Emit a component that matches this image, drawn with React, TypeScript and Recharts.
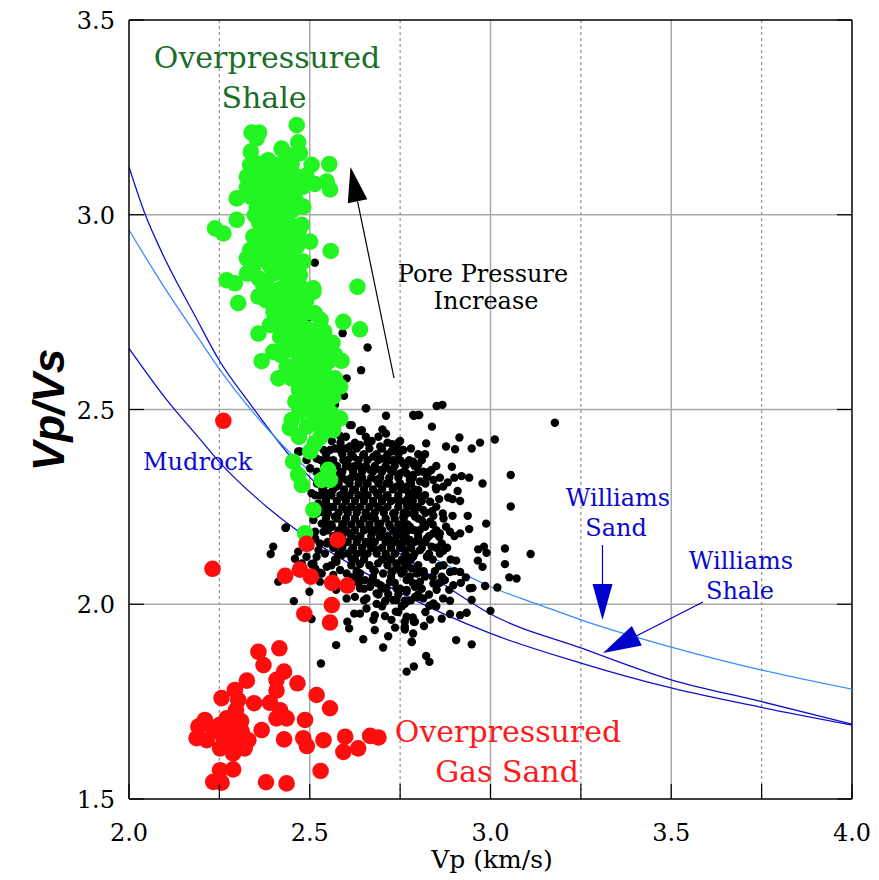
import { ComposedChart, Scatter, Line, XAxis, YAxis, CartesianGrid, ReferenceLine } from 'recharts'

// plot frame in page pixels (used only for annotations)
const W = 879
const H = 880
const PLOT_LEFT = 129
const PLOT_RIGHT = 852
const PLOT_TOP = 20
const PLOT_BOTTOM = 799

const xTicks = [2, 2.25, 2.5, 2.75, 3, 3.25, 3.5, 3.75, 4]
const yTicks = [1.5, 2, 2.5, 3, 3.5]

// trend curves (Vp, Vp/Vs)
const mudrock: [number, number][] = [
  [2.0, 2.657], [2.1, 2.53], [2.2, 2.42], [2.25, 2.365], [2.35, 2.275], [2.47, 2.186],
  [2.6, 2.11], [2.75, 2.03], [3.0, 1.925], [3.25, 1.849], [3.5, 1.785], [3.75, 1.735], [4.0, 1.69],
]
const williamsShale: [number, number][] = [
  [2.0, 3.123], [2.046, 2.998], [2.092, 2.901], [2.184, 2.738], [2.249, 2.627], [2.341, 2.507],
  [2.443, 2.383], [2.6, 2.24], [2.75, 2.13], [2.88, 2.045], [3.0, 1.975], [3.25, 1.888],
  [3.5, 1.806], [3.75, 1.75], [4.0, 1.692],
]
const williamsSand: [number, number][] = [
  [2.0, 2.961], [2.092, 2.822], [2.184, 2.694], [2.249, 2.605], [2.341, 2.495], [2.443, 2.391],
  [2.6, 2.265], [2.75, 2.165], [2.88, 2.1], [3.0, 2.045], [3.137, 1.998], [3.25, 1.96],
  [3.5, 1.89], [3.75, 1.831], [4.0, 1.782],
]

// overpressured shale samples
const shalePts: [number, number][] = [
  [2.464, 3.23], [2.339, 3.211], [2.36, 3.211], [2.353, 3.196], [2.337, 3.162], [2.422, 3.17], [2.468, 3.186],
  [2.335, 3.128], [2.385, 3.14], [2.44, 3.153], [2.473, 3.158], [2.505, 3.128], [2.554, 3.13], [2.326, 3.098],
  [2.367, 3.106], [2.404, 3.11], [2.44, 3.098], [2.482, 3.072], [2.514, 3.079], [2.547, 3.085], [2.556, 3.065],
  [2.326, 3.07], [2.376, 3.072], [2.418, 3.059], [2.298, 3.042], [2.335, 3.047], [2.39, 3.042], [2.44, 3.055],
  [2.353, 3.021], [2.408, 3.021], [2.482, 3.021], [2.348, 2.999], [2.395, 2.995], [2.298, 2.987], [2.238, 2.965],
  [2.261, 2.952], [2.381, 2.974], [2.418, 2.978], [2.454, 2.969], [2.478, 2.974], [2.344, 2.944], [2.39, 2.944],
  [2.445, 2.944], [2.501, 2.931], [2.335, 2.909], [2.381, 2.918], [2.427, 2.909], [2.464, 2.918], [2.558, 2.907],
  [2.326, 2.888], [2.367, 2.888], [2.408, 2.884], [2.45, 2.884], [2.482, 2.88], [2.27, 2.832], [2.326, 2.849],
  [2.358, 2.837], [2.399, 2.849], [2.436, 2.84], [2.473, 2.845], [2.51, 2.811], [2.293, 2.824], [2.632, 2.815],
  [2.371, 2.82], [2.302, 2.773], [2.358, 2.79], [2.408, 2.781], [2.454, 2.794], [2.51, 2.802], [2.422, 2.755],
  [2.473, 2.759], [2.514, 2.747], [2.39, 2.717], [2.44, 2.721], [2.492, 2.708], [2.593, 2.725], [2.639, 2.706],
  [2.358, 2.695], [2.418, 2.687], [2.464, 2.678], [2.519, 2.674], [2.563, 2.671], [2.399, 2.648], [2.44, 2.653],
  [2.501, 2.644], [2.367, 2.624], [2.528, 2.636], [2.551, 2.623], [2.588, 2.625], [2.436, 2.609], [2.473, 2.601],
  [2.413, 2.58], [2.51, 2.588], [2.547, 2.576], [2.584, 2.559], [2.482, 2.567], [2.501, 2.546], [2.482, 2.529],
  [2.528, 2.533], [2.565, 2.533], [2.492, 2.507], [2.538, 2.499], [2.45, 2.473], [2.445, 2.452], [2.492, 2.456],
  [2.519, 2.464], [2.551, 2.456], [2.584, 2.477], [2.565, 2.447], [2.514, 2.413], [2.501, 2.392], [2.454, 2.366],
  [2.468, 2.332], [2.478, 2.306], [2.533, 2.319], [2.551, 2.345], [2.556, 2.319], [2.51, 2.242], [2.487, 2.182],
  [2.492, 2.516], [2.574, 2.473],
]
// the solid middle of the shale cloud
const shaleCorePts: [number, number][] = [
  [2.36, 3.13], [2.39, 3.13], [2.42, 3.13], [2.45, 3.13], [2.35, 3.1], [2.38, 3.1], [2.41, 3.1], [2.46, 3.1],
  [2.49, 3.1], [2.35, 3.07], [2.4, 3.07], [2.43, 3.07], [2.46, 3.07], [2.36, 3.04], [2.37, 3.04], [2.42, 3.04],
  [2.46, 3.04], [2.37, 3.01], [2.42, 3.01], [2.45, 3.01], [2.36, 2.98], [2.4, 2.98], [2.44, 2.98], [2.365, 2.96],
  [2.415, 2.96], [2.47, 2.96], [2.36, 2.93], [2.41, 2.93], [2.47, 2.93], [2.35, 2.9], [2.4, 2.9], [2.44, 2.9],
  [2.345, 2.87], [2.39, 2.87], [2.43, 2.87], [2.47, 2.87], [2.41, 2.86], [2.46, 2.86], [2.39, 2.81], [2.42, 2.81],
  [2.45, 2.81], [2.48, 2.81], [2.38, 2.78], [2.44, 2.78], [2.49, 2.78], [2.4, 2.75], [2.45, 2.75], [2.49, 2.75],
  [2.41, 2.73], [2.47, 2.73], [2.53, 2.73], [2.42, 2.7], [2.45, 2.7], [2.5, 2.7], [2.54, 2.7], [2.43, 2.67],
  [2.49, 2.67], [2.54, 2.67], [2.42, 2.64], [2.47, 2.64], [2.53, 2.64], [2.57, 2.64], [2.45, 2.61], [2.5, 2.61],
  [2.54, 2.61], [2.45, 2.58], [2.49, 2.58], [2.53, 2.58], [2.57, 2.58], [2.47, 2.55], [2.52, 2.55], [2.55, 2.55],
  [2.46, 2.52], [2.51, 2.52], [2.55, 2.52], [2.47, 2.49], [2.51, 2.49], [2.56, 2.49], [2.53, 2.47], [2.47, 2.43],
  [2.53, 2.43],
]

// overpressured gas sand samples
const gasSandPts: [number, number][] = [
  [2.358, 1.878], [2.416, 1.887], [2.372, 1.844], [2.429, 1.827], [2.326, 1.804], [2.408, 1.806], [2.466, 1.797],
  [2.293, 1.78], [2.408, 1.778], [2.256, 1.759], [2.302, 1.754], [2.346, 1.746], [2.39, 1.747], [2.519, 1.767],
  [2.296, 1.728], [2.556, 1.733], [2.418, 1.728], [2.27, 1.707], [2.408, 1.707], [2.436, 1.707], [2.487, 1.703],
  [2.21, 1.703], [2.192, 1.686], [2.298, 1.686], [2.367, 1.677], [2.233, 1.677], [2.27, 1.669], [2.187, 1.656],
  [2.215, 1.651], [2.288, 1.656], [2.33, 1.651], [2.429, 1.653], [2.482, 1.656], [2.538, 1.651], [2.598, 1.66],
  [2.667, 1.662], [2.69, 1.658], [2.252, 1.63], [2.288, 1.617], [2.492, 1.636], [2.593, 1.621], [2.634, 1.63],
  [2.252, 1.574], [2.288, 1.576], [2.233, 1.544], [2.256, 1.542], [2.379, 1.543], [2.436, 1.54], [2.53, 1.572],
  [2.27, 1.69], [2.312, 1.673], [2.25, 1.69], [2.28, 1.64], [2.31, 1.7], [2.32, 1.63], [2.26, 1.66],
  [2.491, 2.155], [2.577, 2.165], [2.432, 2.073], [2.473, 2.089], [2.503, 2.071], [2.562, 2.055], [2.604, 2.048],
  [2.561, 1.998], [2.485, 1.975], [2.556, 1.953], [2.261, 2.471], [2.231, 2.091],
]

// normally pressured samples
const normalPts: [number, number][] = [
  [2.851, 2.509], [2.867, 2.512], [2.786, 2.486], [2.803, 2.486], [2.838, 2.456], [3.178, 2.466], [2.914, 2.428],
  [2.971, 2.415], [3.012, 2.423], [2.877, 2.405], [2.902, 2.398], [2.948, 2.4], [2.822, 2.413], [2.819, 2.385],
  [2.759, 2.396], [2.786, 2.366], [2.8, 2.358], [3.056, 2.332], [2.9, 2.325], [2.92, 2.329], [2.941, 2.325],
  [2.978, 2.31], [2.882, 2.313], [2.849, 2.3], [2.909, 2.291], [3.056, 2.251], [2.858, 2.27], [2.883, 2.274],
  [2.895, 2.27], [2.916, 2.265], [2.868, 2.233], [2.895, 2.227], [2.937, 2.227], [2.838, 2.239], [2.988, 2.207],
  [2.941, 2.193], [2.916, 2.182], [2.877, 2.199], [2.888, 2.186], [2.858, 2.173], [2.865, 2.156], [2.842, 2.182],
  [2.869, 2.137], [2.966, 2.141], [2.982, 2.148], [2.989, 2.132], [3.04, 2.143], [3.111, 2.129], [2.905, 2.112],
  [2.965, 2.112], [2.978, 2.096], [3.04, 2.103], [3.052, 2.069], [3.072, 2.066], [2.888, 2.083], [2.916, 2.083],
  [2.858, 2.098], [2.846, 2.085], [2.865, 2.071], [2.932, 2.069], [2.897, 2.049], [2.918, 2.055], [2.943, 2.041],
  [2.95, 2.042], [2.985, 2.047], [3.019, 2.043], [2.948, 2.011], [3.0, 1.983], [2.869, 2.015], [2.888, 2.009],
  [2.842, 2.002], [2.831, 1.996], [2.934, 1.978], [2.916, 1.972], [2.888, 1.975], [2.865, 1.963], [2.833, 1.961],
  [2.785, 1.966], [2.788, 1.955], [2.763, 1.955], [2.763, 1.935], [2.816, 1.944], [2.763, 2.009], [2.8, 2.019],
  [2.814, 2.015], [2.905, 1.908], [2.948, 1.897], [2.782, 1.903], [2.822, 1.867], [2.831, 1.852], [2.788, 1.84],
  [2.768, 1.827], [2.8, 2.081], [2.819, 2.071], [2.805, 2.058], [2.791, 2.045], [2.777, 2.071], [2.768, 2.037],
  [2.842, 2.053], [2.851, 2.037], [2.886, 2.037], [2.874, 2.062], [2.824, 2.122], [2.805, 2.139], [2.837, 2.148],
  [2.805, 2.161], [2.824, 2.169], [2.805, 2.191], [2.819, 2.199], [2.833, 2.212], [2.81, 2.216], [2.842, 2.227],
  [2.814, 2.242], [2.833, 2.263], [2.819, 2.28], [2.8, 2.293], [2.805, 2.315], [2.824, 2.327], [2.814, 2.34],
  [2.768, 2.336], [2.777, 2.319], [2.768, 2.302], [2.786, 2.285], [2.768, 2.268], [2.786, 2.25], [2.768, 2.233],
  [2.791, 2.225], [2.759, 2.207], [2.777, 2.191], [2.759, 2.173], [2.777, 2.156], [2.763, 2.139], [2.786, 2.122],
  [2.763, 2.105], [2.782, 2.092], [2.754, 2.079], [2.893, 2.353], [2.869, 2.302], [2.842, 2.319], [2.837, 2.345],
  [2.786, 2.332], [2.86, 2.182],
  [2.656, 2.503], [2.711, 2.484], [2.788, 2.484], [2.8, 2.486], [2.611, 2.46], [2.639, 2.445], [2.671, 2.419],
  [2.701, 2.449], [2.711, 2.438], [2.728, 2.411], [2.75, 2.419], [2.757, 2.396], [2.584, 2.432], [2.561, 2.419],
  [2.468, 2.392], [2.434, 2.197], [2.399, 2.148], [2.392, 2.129], [2.413, 2.058], [2.456, 2.008], [2.499, 2.032],
  [2.505, 1.962], [2.573, 1.895], [2.531, 1.848], [2.604, 1.955], [2.609, 1.938], [2.623, 1.976], [2.648, 1.91],
  [2.703, 1.889], [2.717, 1.918], [2.657, 1.989], [2.68, 1.972], [2.708, 1.97], [2.738, 1.981], [2.736, 1.94],
  [2.763, 1.942], [2.782, 1.904], [2.763, 2.001], [2.685, 2.001], [2.731, 2.011], [2.639, 2.06], [2.671, 2.058],
  [2.717, 2.026], [2.627, 2.071], [2.573, 2.037], [2.528, 2.081], [2.505, 2.103], [2.574, 2.109], [2.524, 2.139],
  [2.542, 2.13], [2.616, 2.139], [2.639, 2.103], [2.676, 2.088], [2.703, 2.079], [2.722, 2.058], [2.768, 2.062],
  [2.796, 2.079], [2.74, 2.105], [2.768, 2.122], [2.515, 2.169], [2.538, 2.186], [2.533, 2.207], [2.519, 2.233],
  [2.524, 2.259], [2.515, 2.28], [2.542, 2.276], [2.556, 2.25], [2.569, 2.225], [2.561, 2.199], [2.574, 2.178],
  [2.593, 2.156], [2.588, 2.126], [2.616, 2.117], [2.648, 2.13], [2.611, 2.182], [2.634, 2.169], [2.662, 2.156],
  [2.685, 2.139], [2.712, 2.122], [2.736, 2.13], [2.689, 2.105], [2.75, 2.088], [2.726, 2.083], [2.62, 2.293],
  [2.593, 2.276], [2.602, 2.242], [2.63, 2.242], [2.593, 2.207], [2.639, 2.207], [2.667, 2.191], [2.695, 2.173],
  [2.722, 2.165], [2.75, 2.156], [2.777, 2.165], [2.667, 2.225], [2.695, 2.207], [2.722, 2.199], [2.75, 2.191],
  [2.777, 2.199], [2.676, 2.259], [2.703, 2.242], [2.731, 2.233], [2.759, 2.225], [2.786, 2.233], [2.648, 2.276],
  [2.685, 2.285], [2.712, 2.276], [2.74, 2.268], [2.768, 2.259], [2.657, 2.31], [2.685, 2.319], [2.712, 2.31],
  [2.74, 2.302], [2.768, 2.293], [2.63, 2.327], [2.602, 2.319], [2.574, 2.302], [2.639, 2.353], [2.667, 2.345],
  [2.695, 2.345], [2.722, 2.345], [2.75, 2.336], [2.777, 2.327], [2.611, 2.353], [2.584, 2.336], [2.593, 2.37],
  [2.62, 2.379], [2.648, 2.383], [2.676, 2.379], [2.703, 2.374], [2.731, 2.37], [2.759, 2.362], [2.786, 2.362],
  [2.556, 2.396], [2.584, 2.396], [2.611, 2.405], [2.639, 2.409], [2.695, 2.405], [2.726, 2.392], [2.547, 2.374],
  [2.561, 2.358], [2.519, 2.374], [2.528, 2.327], [2.538, 2.302], [2.551, 2.285], [2.501, 2.349], [2.482, 2.302],
  [2.505, 2.285], [2.547, 2.315], [2.542, 2.203], [2.51, 2.216], [2.533, 2.237], [2.501, 2.148], [2.519, 2.122],
  [2.547, 2.156], [2.569, 2.148], [2.515, 2.092], [2.547, 2.096], [2.584, 2.088], [2.602, 2.079], [2.639, 2.079],
  [2.653, 2.062], [2.667, 2.045], [2.695, 2.049], [2.712, 2.041], [2.74, 2.041], [2.768, 2.032], [2.791, 2.019],
  [2.74, 2.011], [2.768, 2.007], [2.791, 2.049], [2.625, 2.019], [2.602, 2.015], [2.639, 2.041], [2.685, 2.028],
  [2.657, 2.015], [2.708, 2.007], [2.639, 1.976], [2.676, 1.96], [2.68, 1.934], [2.726, 1.96], [2.768, 1.968],
  [2.791, 1.955], [2.786, 1.925], [2.473, 2.392], [2.491, 2.37], [2.478, 2.327], [2.519, 2.405], [2.538, 2.396],
  [2.569, 2.443], [2.519, 2.25], [2.515, 2.186], [2.501, 2.173], [2.528, 2.156], [2.491, 2.122], [2.51, 2.105],
  [2.533, 2.079], [2.528, 2.058], [2.565, 2.075], [2.459, 2.117], [2.468, 2.135], [2.478, 2.105],
  [2.514, 2.877], [2.492, 2.73], [2.591, 2.696], [2.66, 2.659], [2.642, 2.601], [2.602, 2.58], [2.595, 2.535],
  [2.655, 2.503], [2.57, 2.512], [2.528, 2.49], [2.616, 2.46], [2.644, 2.447], [2.479, 2.559], [2.433, 2.196],
]
// the solid middle of the normally pressured cloud
const normalCorePts: [number, number][] = [
  [2.6, 2.43], [2.655, 2.43], [2.69, 2.43],
  [2.585, 2.415], [2.625, 2.415], [2.66, 2.415], [2.715, 2.415], [2.745, 2.415],
  [2.57, 2.4], [2.6, 2.4], [2.63, 2.4], [2.665, 2.4], [2.7, 2.4], [2.74, 2.4], [2.78, 2.4],
  [2.545, 2.385], [2.59, 2.385], [2.615, 2.385], [2.65, 2.385], [2.685, 2.385], [2.715, 2.385], [2.745, 2.385], [2.8, 2.385],
  [2.53, 2.37], [2.565, 2.37], [2.605, 2.37], [2.635, 2.37], [2.66, 2.37], [2.69, 2.37], [2.72, 2.37], [2.75, 2.37], [2.775, 2.37], [2.81, 2.37],
  [2.54, 2.355], [2.575, 2.355], [2.6, 2.355], [2.625, 2.355], [2.655, 2.355], [2.68, 2.355], [2.71, 2.355], [2.735, 2.355], [2.765, 2.355], [2.79, 2.355], [2.85, 2.355],
  [2.52, 2.34], [2.555, 2.34], [2.59, 2.34], [2.62, 2.34], [2.645, 2.34], [2.675, 2.34], [2.7, 2.34], [2.73, 2.34], [2.76, 2.34], [2.8, 2.34], [2.83, 2.34],
  [2.535, 2.325], [2.565, 2.325], [2.59, 2.325], [2.615, 2.325], [2.645, 2.325], [2.67, 2.325], [2.695, 2.325], [2.72, 2.325], [2.745, 2.325], [2.785, 2.325], [2.86, 2.325],
  [2.52, 2.31], [2.55, 2.31], [2.58, 2.31], [2.61, 2.31], [2.635, 2.31], [2.66, 2.31], [2.69, 2.31], [2.72, 2.31], [2.75, 2.31], [2.78, 2.31], [2.82, 2.31],
  [2.535, 2.295], [2.565, 2.295], [2.595, 2.295], [2.625, 2.295], [2.65, 2.295], [2.675, 2.295], [2.7, 2.295], [2.73, 2.295], [2.755, 2.295], [2.79, 2.295], [2.85, 2.295],
  [2.53, 2.28], [2.56, 2.28], [2.585, 2.28], [2.61, 2.28], [2.635, 2.28], [2.66, 2.28], [2.69, 2.28], [2.715, 2.28], [2.745, 2.28], [2.775, 2.28], [2.8, 2.28],
  [2.545, 2.265], [2.575, 2.265], [2.6, 2.265], [2.625, 2.265], [2.65, 2.265], [2.675, 2.265], [2.7, 2.265], [2.725, 2.265], [2.75, 2.265], [2.785, 2.265], [2.81, 2.265],
  [2.54, 2.25], [2.565, 2.25], [2.59, 2.25], [2.615, 2.25], [2.64, 2.25], [2.665, 2.25], [2.69, 2.25], [2.715, 2.25], [2.745, 2.25], [2.77, 2.25], [2.8, 2.25], [2.85, 2.25],
  [2.55, 2.235], [2.58, 2.235], [2.605, 2.235], [2.63, 2.235], [2.655, 2.235], [2.68, 2.235], [2.705, 2.235], [2.735, 2.235], [2.76, 2.235], [2.79, 2.235], [2.82, 2.235],
  [2.545, 2.22], [2.575, 2.22], [2.6, 2.22], [2.625, 2.22], [2.65, 2.22], [2.68, 2.22], [2.71, 2.22], [2.735, 2.22], [2.76, 2.22], [2.8, 2.22], [2.87, 2.22],
  [2.56, 2.205], [2.59, 2.205], [2.615, 2.205], [2.64, 2.205], [2.665, 2.205], [2.69, 2.205], [2.72, 2.205], [2.745, 2.205], [2.77, 2.205], [2.815, 2.205], [2.84, 2.205],
  [2.55, 2.19], [2.58, 2.19], [2.6, 2.19], [2.625, 2.19], [2.65, 2.19], [2.68, 2.19], [2.7, 2.19], [2.73, 2.19], [2.76, 2.19], [2.79, 2.19], [2.85, 2.19],
  [2.565, 2.175], [2.59, 2.175], [2.615, 2.175], [2.64, 2.175], [2.67, 2.175], [2.695, 2.175], [2.715, 2.175], [2.74, 2.175], [2.765, 2.175], [2.8, 2.175], [2.83, 2.175], [2.9, 2.175],
  [2.55, 2.16], [2.575, 2.16], [2.605, 2.16], [2.63, 2.16], [2.655, 2.16], [2.68, 2.16], [2.71, 2.16], [2.735, 2.16], [2.76, 2.16], [2.79, 2.16], [2.82, 2.16],
  [2.565, 2.145], [2.59, 2.145], [2.62, 2.145], [2.645, 2.145], [2.67, 2.145], [2.7, 2.145], [2.725, 2.145], [2.75, 2.145], [2.78, 2.145], [2.81, 2.145], [2.85, 2.145], [2.88, 2.145],
  [2.58, 2.13], [2.605, 2.13], [2.63, 2.13], [2.66, 2.13], [2.685, 2.13], [2.71, 2.13], [2.735, 2.13], [2.765, 2.13], [2.79, 2.13], [2.83, 2.13], [2.86, 2.13],
  [2.57, 2.115], [2.625, 2.115], [2.65, 2.115], [2.7, 2.115], [2.725, 2.115], [2.755, 2.115], [2.78, 2.115], [2.84, 2.115], [2.89, 2.115],
  [2.56, 2.1], [2.615, 2.1], [2.665, 2.1], [2.715, 2.1], [2.74, 2.1], [2.77, 2.1], [2.8, 2.1], [2.87, 2.1],
  [2.63, 2.085], [2.68, 2.085], [2.73, 2.085], [2.76, 2.085], [2.815, 2.085], [2.9, 2.085],
  [2.62, 2.07], [2.675, 2.07], [2.725, 2.07], [2.775, 2.07], [2.84, 2.07],
  [2.635, 2.055], [2.685, 2.055], [2.735, 2.055], [2.785, 2.055], [2.86, 2.055],
  [2.65, 2.04], [2.7, 2.04], [2.75, 2.04], [2.81, 2.04],
  [2.69, 2.025], [2.745, 2.025], [2.8, 2.025], [2.83, 2.025],
  [2.65, 2.01], [2.71, 2.01], [2.78, 2.01],
  [2.7, 1.995], [2.755, 1.995], [2.85, 1.995],
  [2.745, 1.98], [2.82, 1.98],
]

const toXY = (pts: [number, number][]) => pts.map(([x, y]) => ({ x, y }))

const SERIF = '"DejaVu Serif", serif'

function XTick(props: any) {
  const { x, y, payload } = props
  const major = Math.abs(payload.value * 2 - Math.round(payload.value * 2)) < 1e-6
  return (
    <g>
      <line x1={x} x2={x} y1={y - 15} y2={y} stroke="#000" strokeWidth={1.2} />
      {major && (
        <text x={x} y={y + 42} textAnchor="middle" fontFamily={SERIF} fontSize={24} fill="#000">
          {payload.value.toFixed(1)}
        </text>
      )}
    </g>
  )
}

function YTick(props: any) {
  const { x, y, payload } = props
  return (
    <g>
      <line x1={x} x2={x + 15} y1={y} y2={y} stroke="#000" strokeWidth={1.2} />
      <line x1={PLOT_RIGHT - 15} x2={PLOT_RIGHT} y1={y} y2={y} stroke="#000" strokeWidth={1.2} />
      <text x={x - 14} y={y + 9} textAnchor="end" fontFamily={SERIF} fontSize={24} fill="#000">
        {payload.value.toFixed(1)}
      </text>
    </g>
  )
}

const dot = (r: number, fill: string) => (p: any) => <circle cx={p.cx} cy={p.cy} r={r} fill={fill} />

function Arrow({ x1, y1, x2, y2, len, wid, color, sw = 1.3 }: any) {
  const dx = x2 - x1
  const dy = y2 - y1
  const d = Math.hypot(dx, dy)
  const ux = dx / d
  const uy = dy / d
  const bx = x2 - ux * len
  const by = y2 - uy * len
  const nx = -uy * (wid / 2)
  const ny = ux * (wid / 2)
  return (
    <g>
      <line x1={x1} y1={y1} x2={bx} y2={by} stroke={color} strokeWidth={sw} />
      <polygon points={`${x2},${y2} ${bx + nx},${by + ny} ${bx - nx},${by - ny}`} fill={color} />
    </g>
  )
}

export default function App() {
  return (
    <div style={{ position: 'absolute', left: 0, top: 0, width: W, height: H, background: '#fff' }}>
      <ComposedChart width={W} height={H} margin={{ top: PLOT_TOP, right: W - PLOT_RIGHT, bottom: 0, left: 0 }}>
        <CartesianGrid stroke="#a9a9a9" strokeWidth={1.5} verticalValues={[2.5, 3, 3.5]} horizontalValues={[2, 2.5, 3]} />
        <CartesianGrid stroke="#999" strokeWidth={1.3} strokeDasharray="3 3" horizontal={false} verticalValues={[2.25, 2.75, 3.25, 3.75]} />
        <XAxis
          type="number"
          dataKey="x"
          domain={[2, 4]}
          ticks={xTicks}
          interval={0}
          height={H - PLOT_BOTTOM}
          tickSize={0}
          tickMargin={0}
          tick={<XTick />}
          axisLine={{ stroke: '#000', strokeWidth: 1.5 }}
          allowDataOverflow
        />
        <YAxis
          type="number"
          dataKey="y"
          domain={[1.5, 3.5]}
          ticks={yTicks}
          interval={0}
          width={PLOT_LEFT}
          tickSize={0}
          tickMargin={0}
          tick={<YTick />}
          axisLine={{ stroke: '#000', strokeWidth: 1.5 }}
          allowDataOverflow
        />
        <ReferenceLine y={3.5} stroke="#000" strokeWidth={1.5} />
        <ReferenceLine x={4} stroke="#000" strokeWidth={1.5} />
        <Line data={toXY(mudrock)} dataKey="y" type="monotone" dot={false} stroke="#1010c8" strokeWidth={1.3} isAnimationActive={false} />
        <Line data={toXY(williamsShale)} dataKey="y" type="monotone" dot={false} stroke="#1010c8" strokeWidth={1.3} isAnimationActive={false} />
        <Line data={toXY(williamsSand)} dataKey="y" type="monotone" dot={false} stroke="#3a8cff" strokeWidth={1.3} isAnimationActive={false} />
        <Scatter data={toXY(normalPts.concat(normalCorePts))} fill="#000" shape={dot(4.2, '#000')} isAnimationActive={false} />
        <Scatter data={toXY(shalePts.concat(shaleCorePts))} fill="#22f522" shape={dot(8.3, '#22f522')} isAnimationActive={false} />
        <Scatter data={toXY(gasSandPts)} fill="#ff0d0d" shape={dot(8.3, '#ff0d0d')} isAnimationActive={false} />
      </ComposedChart>
      <svg width={W} height={H} style={{ position: 'absolute', left: 0, top: 0, pointerEvents: 'none' }}>
        <g fontFamily={SERIF}>
          <text x={267} y={68} fontSize={30} fill="#1a6e28" textAnchor="middle">Overpressured</text>
          <text x={264} y={108} fontSize={30} fill="#1a6e28" textAnchor="middle">Shale</text>
          <text x={483} y={282} fontSize={24} fill="#000" textAnchor="middle">Pore Pressure</text>
          <text x={486} y={309} fontSize={24} fill="#000" textAnchor="middle">Increase</text>
          <text x={143} y={470} fontSize={24} fill="#0a0acc">Mudrock</text>
          <text x={618} y={506} fontSize={24} fill="#0a0acc" textAnchor="middle">Williams</text>
          <text x={616} y={536} fontSize={24} fill="#0a0acc" textAnchor="middle">Sand</text>
          <text x={741} y={569} fontSize={24} fill="#0a0acc" textAnchor="middle">Williams</text>
          <text x={740} y={599} fontSize={24} fill="#0a0acc" textAnchor="middle">Shale</text>
          <text x={508} y={742} fontSize={30} fill="#ff1a1a" textAnchor="middle">Overpressured</text>
          <text x={507} y={782} fontSize={30} fill="#ff1a1a" textAnchor="middle">Gas Sand</text>
          <text x={492} y={868} fontSize={25} fill="#000" textAnchor="middle">Vp (km/s)</text>
        </g>
        <text
          x={0}
          y={0}
          transform="translate(64 410) rotate(-90)"
          textAnchor="middle"
          fontFamily='"Liberation Sans", Arial, sans-serif'
          fontWeight="bold"
          fontStyle="italic"
          fontSize={44}
          fill="#000"
        >
          Vp/Vs
        </text>
        <Arrow x1={394} y1={378} x2={350.5} y2={167} len={35} wid={20} color="#000" sw={1.2} />
        <Arrow x1={602.5} y1={545} x2={602.5} y2={620} len={36} wid={20} color="#0000cc" sw={1.2} />
        <Arrow x1={703} y1={602} x2={603} y2={653} len={38} wid={22} color="#0000cc" sw={1.2} />
      </svg>
    </div>
  )
}
